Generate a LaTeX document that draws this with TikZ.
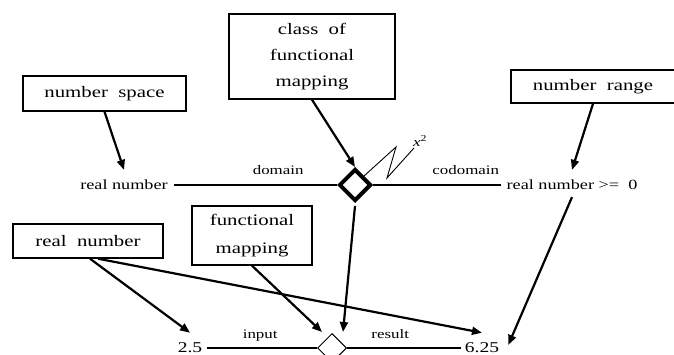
\documentclass[tikz,border=0pt]{standalone}
\usepackage{fontspec}
\setmainfont[FakeStretch=1.3]{Liberation Serif}
\usetikzlibrary{shapes.geometric, arrows.meta, positioning, calc}
\tikzset{
    box/.style = {draw, rectangle, line width=1.4pt, inner sep=0pt, text centered, align=center, font=\fontsize{16}{26}\selectfont},
    term/.style = {inner sep=1pt, font=\fontsize{14}{16}\selectfont},
    value/.style = {inner sep=1pt, font=\fontsize{15}{17}\selectfont},
    rel/.style = {draw, diamond, aspect=1, inner sep=0pt},
    arrow/.style = {-{Triangle[length=10pt, width=8pt]}, line width=2.2pt},
    link/.style = {line width=1.3pt},
    tag/.style = {anchor=base, yshift=10pt, inner sep=0pt, font=\fontsize{13}{15}\selectfont}
}

\begin{document}
\begin{tikzpicture}[x=1pt, y=-1pt]
    \useasboundingbox (0,0) rectangle (674,355);
    \clip (0,0) rectangle (674,355);

    % Concept boxes
    \node[box, minimum width=163pt, minimum height=35pt] (nspace) at (104.5,93.5) {number\ \ space};
    \node[box, minimum width=166pt, minimum height=85pt] (cfmap) at (312,56.5) {class\ \ of\\functional\\mapping};
    \node[box, minimum width=164pt, minimum height=33pt] (nrange) at (593,86.5) {number\ \ range};
    \node[box, minimum width=150pt, minimum height=34pt] (rnbox) at (88,241) {real\ \ number};
    \node[box, minimum width=120pt, minimum height=59pt, font=\fontsize{16}{28}\selectfont] (fmap) at (252,235.5) {functional\\mapping};

    % Type level
    \node[term] (rnum) at (124,185) {real number};
    \node[term] (rnum0) at (572,185) {real number >=\ \ 0};
    \node[rel, line width=4pt, minimum size=32pt] (bigd) at (355,185) {};
    \draw[link, shorten <=5pt] (rnum) -- node[tag, pos=0.65] {domain} (bigd);
    \draw[link, shorten >=4pt] (bigd) -- node[tag, pos=0.7] {codomain} (rnum0);
    \draw[line width=0.9pt] (bigd.north east) -- (396,147) -- (387,178) -- (414,148);
    \node[anchor=west, inner sep=0pt, font=\fontsize{13}{15}\selectfont] (sq) at (413,141) {\textit{x}\textsuperscript{2}};

    % Instance level
    \node[value] (vin) at (190,348) {2.5};
    \node[value] (vout) at (482,348) {6.25};
    \node[rel, line width=1pt, minimum size=29pt] (smalld) at (332,348) {};
    \draw[link, shorten <=4pt] (vin) -- node[tag] {input} (smalld);
    \draw[link, shorten >=3pt] (smalld) -- node[tag, pos=0.37] {result} (vout);

    % Arrows
    \draw[arrow] (nspace.south) -- ([yshift=9pt]rnum.north);
    \draw[arrow] (cfmap.south) -- (bigd.north);
    \draw[arrow] (nrange.south) -- ([yshift=9pt]rnum0.north);
    \draw[arrow] ([yshift=-6pt]rnum0.south) -- ([xshift=8pt, yshift=3pt]vout.east);
    \draw[arrow] ([yshift=-3pt]bigd.south) -- ($(smalld.north)+(11,-1)$);
    \draw[arrow] (fmap.south) -- ($(smalld.north)+(-10,-1)$);
    \draw[arrow] ([xshift=2pt]rnbox.south) -- ([yshift=9pt]vin.north);
    \draw[arrow] ([xshift=10pt]rnbox.south) -- ([yshift=9pt]vout.north);

\end{tikzpicture}
\end{document}
